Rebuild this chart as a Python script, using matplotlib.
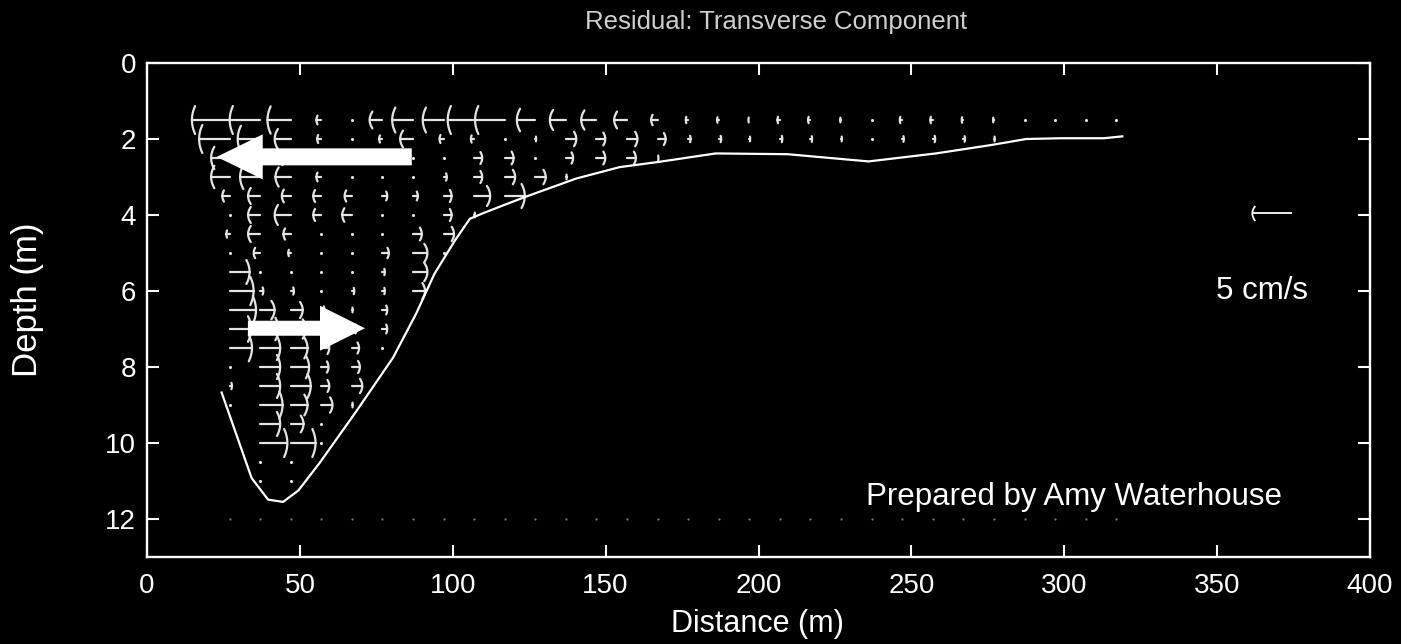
import numpy as np
import matplotlib
matplotlib.use("Agg")
import matplotlib.pyplot as plt
from matplotlib.collections import LineCollection
from matplotlib.patches import Polygon

# ---------------------------------------------------------------------------
# Residual transverse velocity (cm/s, positive = toward larger distance)
# Stations every 10 m; each row starts at the distance given in row_start.
# ---------------------------------------------------------------------------
station_step = 10
depths = [1.5, 2.0, 2.5, 3.0, 3.5, 4.0, 4.5, 5.0, 5.5, 6.0, 6.5,
          7.0, 7.5, 8.0, 8.5, 9.0, 9.5, 10.0, 10.5, 11.0, 12.0]
row_start = [27, 27, 27, 27, 27, 27, 27, 27, 27, 27, 27,
             27, 27, 27, 27, 27, 37, 37, 37, 37, 27]

u_1_5 = [-4.7, -3.8, -2.9, -0.6, 0.0, -1.6, -2.6, -2.6, -3.3, -3.7,
         -2.3, -2.0, -1.9, -1.6, -0.8, -0.3, -0.2, -0.1, -0.3, -0.3,
         -0.1, 0.0, -0.3, -0.3, -0.2, -0.1, 0.0, 0.0, 0.0, 0.0]
u_2_0 = [-3.8, -2.8, -2.0, -0.5, 0.0, -0.4, -1.6, -0.5, -0.4, 0.0,
         0.1, 1.3, 1.1, 1.3, 1.0, 0.3, 0.3, 0.1, 0.3, 0.2,
         0.1, 0.0, 0.2, 0.3, 0.2, 0.1]
u_2_5 = [-2.3, -1.8, -1.3, -0.5, 0.0, 0.0, 0.0, 0.0, 1.0, 1.1,
         0.0, 0.9, 1.1, 1.1, 0.1]
u_3_0 = [-2.3, -2.5, -1.9, -0.6, 0.0, 0.0, 0.0, 0.4, 1.0, 1.3, 1.3, 0.1]
u_3_5 = [-0.9, -1.5, -1.1, -1.0, -0.9, 0.6, 0.6, 1.0, 2.0, 2.5]
u_4_0 = [0.0, -1.5, -2.0, -1.0, -1.2, 0.0, 0.0, 1.0, 0.1]
u_4_5 = [-0.4, -1.5, -0.9, 0.0, 0.0, 0.0, 1.1, 1.3]
u_5_0 = [0.0, -0.8, -0.3, 0.0, 0.0, 0.8, 1.8, 0.0]
u_5_5 = [2.5, 0.0, 0.0, 0.0, 0.0, 0.3, 1.8]
u_6_0 = [3.0, 0.4, 0.4, 0.0, 0.3, 0.3, 1.5]
u_6_5 = [3.3, 1.8, 1.5, 0.4, 0.1, 0.6]
u_7_0 = [2.7, 2.3, 1.9, 0.8, 0.6, 0.6]
u_7_5 = [2.8, 2.5, 2.1, 1.0, 0.9, 0.0]
u_8_0 = [0.0, 2.5, 2.3, 0.9, 1.0]
u_8_5 = [0.3, 2.5, 2.5, 1.0, 1.3]
u_9_0 = [0.0, 2.8, 2.1, 1.4, 0.1]
u_9_5 = [2.5, 1.6, 0.0]
u_10_0 = [3.4, 3.1, 0.0]
u_10_5 = [0.0, 0.0]
u_11_0 = [0.0, 0.0]
u_12_0 = [0.0, 0.0, 0.0, 0.0, 0.0, 0.0, 0.0, 0.0, 0.0, 0.0,
          0.0, 0.0, 0.0, 0.0, 0.0, 0.0, 0.0, 0.0, 0.0, 0.0,
          0.0, 0.0, 0.0, 0.0, 0.0, 0.0, 0.0, 0.0, 0.0, 0.0]

velocity_rows = [u_1_5, u_2_0, u_2_5, u_3_0, u_3_5, u_4_0, u_4_5, u_5_0,
                 u_5_5, u_6_0, u_6_5, u_7_0, u_7_5, u_8_0, u_8_5, u_9_0,
                 u_9_5, u_10_0, u_10_5, u_11_0, u_12_0]

# Channel bed profile
bed_distance = [24.4, 34.2, 39.6, 44.5, 49.5, 56.5, 68.5, 80.5, 88.0, 94.0,
                100.8, 105.6, 110.0, 116.4, 123.5, 140.4, 154.6, 167.6, 186.0,
                209.5, 236.0, 258.0, 276.0, 287.6, 299.0, 313.0, 319.0]
bed_depth = [8.67, 10.92, 11.49, 11.55, 11.25, 10.52, 9.16, 7.75, 6.60, 5.55,
             4.66, 4.10, 3.95, 3.75, 3.53, 3.04, 2.74, 2.60, 2.38,
             2.40, 2.59, 2.38, 2.16, 2.00, 1.98, 1.98, 1.93]

# Scale arrow
ref_speed = 5.0
ref_position = (374.6, 3.96)

# Flow-direction annotation arrows: (tail distance, tip distance, depth)
upper_flow = (86.6, 22.8, 2.47)
lower_flow = (33.0, 71.3, 6.98)

# ---------------------------------------------------------------------------
W, H, DPI = 1401, 644, 100
fig = plt.figure(figsize=(W / DPI, H / DPI), dpi=DPI, facecolor="black")
ax = fig.add_axes([147 / W, 1 - 557 / H, (1370 - 147) / W, (557 - 63) / H])
ax.set_facecolor("black")
ax.set_xlim(0, 400)
ax.set_ylim(13, 0)

pos = ax.get_position()
sx = pos.width * W / 400.0   # pixels per metre of distance
sy = pos.height * H / 13.0   # pixels per metre of depth
arrow_scale = 13.1 / ref_speed  # metres of distance per cm/s

arrow_color = "#e4e4e4"


def arrow_segments(x, d, u, head_half=None, head_back=None):
    """Shaft plus a curved open head, MATLAB-quiver style."""
    L = u * arrow_scale
    Lpx = abs(L) * sx
    tip = x + L
    segs = [[(x, d), (tip, d)]]
    h = min(0.5 * Lpx + 2.0, 14.0) if head_half is None else head_half
    b = min(0.22 * Lpx, 3.2) if head_back is None else head_back
    t = np.linspace(-1, 1, 11)
    hx = tip - np.sign(L) * b * t ** 2 / sx
    hy = d + h * t / sy
    segs.append(np.column_stack([hx, hy]))
    return segs


segments = []
dots_x, dots_y = [], []
faint_x, faint_y = [], []
for depth, start, row in zip(depths, row_start, velocity_rows):
    for k, u in enumerate(row):
        x = start + k * station_step
        if u == 0.0:
            if depth >= 12:
                faint_x.append(x)
                faint_y.append(depth)
            else:
                dots_x.append(x)
                dots_y.append(depth)
        else:
            segments.extend(arrow_segments(x, depth, u))

ax.add_collection(LineCollection(segments, colors=arrow_color,
                                 linewidths=1.6, capstyle="round", zorder=3))
ax.scatter(dots_x, dots_y, s=5, color=arrow_color, linewidths=0, zorder=3)
ax.scatter(faint_x, faint_y, s=2.5, color="#7a7a7a", linewidths=0, zorder=3)

# bed
ax.plot(bed_distance, bed_depth, color="white", lw=1.6, zorder=4,
        solid_joinstyle="round")

# scale arrow and label
ax.add_collection(LineCollection(
    arrow_segments(ref_position[0], ref_position[1], -ref_speed,
                   head_half=7.5, head_back=3.0),
    colors="white", linewidths=1.3, zorder=4))
ax.text(364.7, 6.0, "5 cm/s", color="white", fontsize=22.5,
        family="Liberation Sans", ha="center", va="center")


def flow_arrow(tail, tip, d, shaft_half, head_half, head_len):
    direction = np.sign(tip - tail)
    base = tip - direction * head_len / sx
    verts = [(tail, d - shaft_half / sy), (base, d - shaft_half / sy),
             (base, d - head_half / sy), (tip, d),
             (base, d + head_half / sy), (base, d + shaft_half / sy),
             (tail, d + shaft_half / sy)]
    ax.add_patch(Polygon(verts, closed=True, facecolor="white",
                         edgecolor="none", zorder=6))


flow_arrow(*upper_flow, shaft_half=8.5, head_half=22.5, head_len=46)
flow_arrow(*lower_flow, shaft_half=7.5, head_half=22.5, head_len=45)

# axes styling
for sp in ax.spines.values():
    sp.set_color("white")
    sp.set_linewidth(1.7)
ax.set_xticks(np.arange(0, 401, 50))
ax.set_yticks(np.arange(0, 13, 2))
ax.tick_params(axis="both", direction="in", length=8.6, width=1.5,
               colors="white", top=True, right=True, labelsize=20)
ax.tick_params(axis="x", pad=11.5)
ax.tick_params(axis="y", pad=8)
for lab in ax.get_xticklabels() + ax.get_yticklabels():
    lab.set_family("Liberation Sans")

fig.text(757 / W, 1 - 624 / H, "Distance (m)", color="white", fontsize=22,
         family="Liberation Sans", ha="center", va="center")
fig.text(28 / W, 1 - 300 / H, "Depth (m)", color="white", fontsize=25,
         family="Liberation Sans", ha="center", va="center", rotation=90)
fig.text(776 / W, 1 - 22 / H, "Residual: Transverse Component",
         color="#cfcfcf", fontsize=18.5, family="Liberation Sans",
         ha="center", va="center")
fig.text(1074.5 / W, 1 - 497 / H, "Prepared by Amy Waterhouse",
         color="white", fontsize=22.5, family="Liberation Sans",
         ha="center", va="center")

fig.savefig("out.png", dpi=DPI, facecolor="black")
